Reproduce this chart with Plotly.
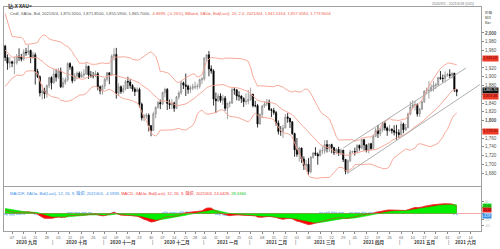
import numpy as np
import pandas as pd
import plotly.graph_objects as go
from plotly.subplots import make_subplots

# ---------------- data (daily XAU=) ----------------
warmup_close = [1740, 1727, 1699, 1714, 1685, 1698, 1715, 1738, 1728, 1730, 1725, 1727, 1727, 1722, 1743,
                1754, 1768, 1761, 1763, 1771, 1772, 1781,
                1769, 1775, 1775, 1784, 1795, 1809, 1803, 1799, 1802, 1809, 1807, 1797, 1810, 1817, 1843,
                1871, 1888, 1902, 1942, 1958, 1970, 1957, 1975,
                1976, 2019, 2039, 2063, 2035, 2028, 1911, 1915, 1954, 1944, 1985, 2003, 1930, 1946, 1940,
                1929, 1907, 1954, 1929, 1964, 1968, 1970]

open_ = [1970,1944,1931,1934,1931,1932,1947,1945,1940,1956,1955,1960,1944,1950,1912,1900,1863,1868,1861,1880,1898,
         1886,1906,1899,1913,1877,1887,1893,1930,1922,1891,1902,1908,1899,1904,1906,1924,1904,1902,1902,1907,1877,1868,
         1879,1894,1909,1904,1947,1951,1862,1877,1866,1873,1889,1888,1880,1872,1866,1871,1837,1806,1810,1812,1788,
         1777,1815,1830,1841,1838,1864,1871,1839,1836,1840,1828,1854,1863,1886,1881,1878,1871,1874,1877,1877,1878,1893,
         1895,1943,1950,1918,1913,1849,1845,1856,1846,1851,1828,1840,1840,1871,1870,1856,1856,1850,1843,1844,
         1848,1860,1834,1834,1792,1814,1833,1838,1842,1825,1823,1818,1794,1775,1775,1783,1808,1805,1797,1770,
         1733,1723,1737,1712,1697,1700,1683,1716,1726,1723,1719,1731,1731,1745,1736,1745,1738,1727,1734,1726,1732,1711,1684,
         1708,1728,1729,1728,1743,1737,1756,1744,1732,1747,1736,1764,1777,1770,1779,1793,1783,1777,1780,1777,1773,1772,
         1768,1792,1779,1784,1815,1831,1836,1836,1815,1826,1843,1867,1869,1869,1876,1881,1881,1898,1896,1896,1903,
         1905,1903,1908,1870.32]
high = [1973,1951,1945,1937,1945,1952,1965,1952,1963,1966,1973,1962,1957,1955,1918,1903,1882,1875,1882,1900,1901,
        1917,1918,1920,1921,1898,1898,1933,1933,1925,1908,1912,1912,1912,1917,1931,1925,1913,1911,1914,1911,1880,1882,
        1897,1911,1910,1951,1965,1966,1885,1880,1881,1893,1900,1894,1883,1876,1876,1875,1841,1815,1817,1816,1790,
        1820,1832,1845,1848,1866,1875,1874,1848,1849,1843,1856,1868,1891,1889,1907,1882,1880,1884,1889,1884,1896,1899,
        1944,1952,1959,1926,1917,1864,1862,1862,1859,1856,1840,1845,1874,1875,1871,1867,1857,1853,1862,1870,
        1875,1861,1845,1838,1816,1835,1844,1849,1848,1828,1829,1822,1800,1787,1790,1815,1817,1806,1798,1772,
        1760,1740,1738,1718,1710,1714,1719,1727,1739,1727,1735,1741,1755,1755,1746,1747,1740,1737,1740,1736,1733,1712,1711,
        1733,1731,1738,1746,1745,1759,1758,1746,1749,1749,1767,1783,1790,1783,1797,1798,1786,1790,1782,1789,1790,1780,
        1799,1795,1792,1818,1843,1846,1845,1839,1829,1845,1869,1875,1890,1883,1890,1886,1900,1913,1905,1912,1909,
        1917,1910,1909,1871.85]
low = [1936,1916,1920,1922,1906,1928,1936,1935,1937,1948,1950,1931,1941,1882,1897,1855,1848,1850,1852,1874,1871,
       1884,1889,1895,1874,1874,1882,1889,1916,1885,1889,1894,1897,1899,1897,1905,1895,1898,1896,1899,1869,1860,1859,
       1872,1889,1883,1903,1937,1850,1856,1861,1862,1869,1872,1873,1866,1856,1865,1829,1800,1798,1804,1775,1764,
       1776,1805,1827,1826,1835,1853,1824,1826,1826,1820,1826,1848,1859,1872,1856,1861,1863,1869,1871,1871,1873,1883,
       1891,1936,1901,1907,1834,1817,1842,1841,1836,1822,1803,1830,1838,1859,1846,1845,1840,1831,1836,1837,
       1845,1830,1830,1784,1791,1805,1829,1833,1822,1808,1813,1788,1768,1765,1760,1782,1795,1783,1767,1717,
       1717,1706,1703,1687,1687,1676,1679,1713,1719,1699,1719,1723,1724,1727,1728,1725,1721,1723,1719,1721,1705,1677,1678,
       1705,1726,1720,1725,1731,1734,1731,1727,1725,1733,1735,1762,1760,1764,1774,1777,1765,1774,1770,1766,1756,1760,
       1765,1771,1776,1782,1812,1827,1823,1809,1808,1824,1840,1862,1850,1866,1866,1872,1880,1893,1887,1887,1900,
       1897,1896,1865,1855.59]
close = [1944,1931,1934,1931,1932,1947,1945,1940,1956,1955,1960,1944,1950,1912,1900,1863,1868,1861,1880,1898,1886,
         1906,1899,1913,1877,1887,1893,1930,1922,1891,1902,1908,1899,1904,1906,1924,1904,1902,1902,1907,1877,1868,1879,
         1894,1909,1904,1947,1951,1862,1877,1866,1873,1889,1888,1880,1872,1866,1871,1837,1806,1810,1812,1788,1777,
         1815,1830,1841,1838,1864,1871,1839,1836,1840,1828,1854,1863,1886,1881,1878,1871,1874,1877,1877,1878,1893,1895,
         1943,1950,1918,1913,1849,1845,1856,1846,1851,1828,1840,1840,1871,1870,1856,1856,1850,1843,1844,1848,
         1860,1834,1834,1792,1814,1833,1838,1842,1825,1823,1818,1794,1775,1775,1783,1808,1805,1797,1770,1733,
         1723,1737,1712,1697,1700,1683,1716,1726,1723,1719,1731,1731,1745,1736,1745,1738,1727,1734,1726,1732,1711,1684,1708,
         1728,1729,1728,1743,1737,1756,1744,1732,1747,1736,1764,1777,1770,1779,1793,1783,1777,1780,1777,1773,1772,1768,
         1792,1779,1784,1815,1831,1836,1836,1815,1826,1843,1867,1869,1869,1876,1881,1881,1898,1896,1896,1903,1905,
         1903,1908,1871,1865.70]

holidays = ["2020-12-25", "2021-01-01"]
dates = [d.strftime("%Y-%m-%d") for d in pd.bdate_range("2020-09-02", "2021-06-04")
         if d.strftime("%Y-%m-%d") not in holidays]

# channel drawn on the chart (read endpoints)
chan_up_x = ["2021-03-29", "2021-06-10"]
chan_up_y = [1737, 1920]
chan_lo_x = ["2021-03-31", "2021-06-18"]
chan_lo_y = [1680, 1882]

month_labels = ["2020 九月", "2020 十月", "2020 十一月", "2020 十二月", "2021 一月",
                "2021 二月", "2021 三月", "2021 四月", "2021 五月", "2021 六月"]
month_label_x = ["2020-09-15", "2020-10-15", "2020-11-12", "2020-12-15", "2021-01-18",
                 "2021-02-16", "2021-03-17", "2021-04-15", "2021-05-17", "2021-06-10"]
month_sep_x = ["2020-09-30 12:00", "2020-10-30 12:00", "2020-11-30 12:00", "2020-12-31 12:00",
               "2021-01-29 12:00", "2021-02-26 12:00", "2021-03-31 12:00", "2021-04-30 12:00",
               "2021-05-31 12:00"]
price_ticks = list(range(1680, 2001, 20))
price_hidden = [1940, 1860, 1780]          # labels covered by value boxes in the original
price_bold = [1800, 2000]
macd_ticks = [-60, -40, -20, 0, 20, 40]
macd_hidden = [0, 20]

# ---------------- indicators (BBand 20,2 ; MACD 12,26,9) ----------------
allc = pd.Series(warmup_close + close, dtype=float)
n = len(close)
sma = allc.rolling(20).mean()
sd = allc.rolling(20).std(ddof=0)
bb_mid = sma.iloc[-n:].values
bb_up = (sma + 2 * sd).iloc[-n:].values
bb_lo = (sma - 2 * sd).iloc[-n:].values
e12 = allc.ewm(span=12, adjust=False).mean()
e26 = allc.ewm(span=26, adjust=False).mean()
macd_all = e12 - e26
sig_all = macd_all.ewm(span=9, adjust=False).mean()
macd = macd_all.iloc[-n:].values
sig = sig_all.iloc[-n:].values
hist = macd - sig

# ---------------- figure ----------------
fig = make_subplots(rows=2, cols=1, shared_xaxes=True, vertical_spacing=0)

fig.add_trace(go.Candlestick(
    x=dates, open=open_, high=high, low=low, close=close,
    increasing=dict(fillcolor="#d8d8d8", line=dict(color="#8a8a8a", width=0.8)),
    decreasing=dict(fillcolor="#000000", line=dict(color="#000000", width=0.8)),
    whiskerwidth=0, showlegend=False, hoverinfo="skip"), row=1, col=1)

band_col = "#f5a08e"
for yv in (bb_up, bb_mid, bb_lo):
    fig.add_trace(go.Scatter(x=dates, y=yv, mode="lines", line=dict(color=band_col, width=0.9),
                             showlegend=False, hoverinfo="skip"), row=1, col=1)

for cx, cy in ((chan_up_x, chan_up_y), (chan_lo_x, chan_lo_y)):
    fig.add_trace(go.Scatter(x=cx, y=cy, mode="lines", line=dict(color="#9a9a9a", width=0.8),
                             showlegend=False, hoverinfo="skip"), row=1, col=1)

# MACD panel
fig.add_trace(go.Scatter(x=dates, y=macd, mode="lines", fill="tozeroy", fillcolor="#ff0000",
                         line=dict(color="#ff0000", width=0.6), showlegend=False, hoverinfo="skip"),
              row=2, col=1)
fig.add_trace(go.Scatter(x=dates, y=sig, mode="lines", fill="tozeroy", fillcolor="#00f000",
                         line=dict(color="#00e000", width=0.6), showlegend=False, hoverinfo="skip"),
              row=2, col=1)
fig.add_trace(go.Scatter(x=dates, y=macd, mode="lines", line=dict(color="#e03030", width=0.6),
                         showlegend=False, hoverinfo="skip"), row=2, col=1)
fig.add_trace(go.Bar(x=dates, y=hist, marker=dict(color="#a8d0f4", line=dict(width=0)),
                     showlegend=False, hoverinfo="skip"), row=2, col=1)

rb = [dict(bounds=["sat", "mon"]), dict(values=holidays)]
xr = ["2020-09-01 12:00", "2021-06-18 12:00"]
mondays = pd.date_range("2020-09-07", "2021-06-14", freq="W-MON")
fig.update_xaxes(rangebreaks=rb, range=xr, showgrid=False, zeroline=False,
                 showline=True, mirror=True, linecolor="#a0a0a0", linewidth=1,
                 rangeslider=dict(visible=False))
fig.update_xaxes(showticklabels=False, ticks="", row=1, col=1)
fig.update_xaxes(tickmode="array", tickvals=[d.strftime("%Y-%m-%d") for d in mondays],
                 ticktext=[d.strftime("%d") for d in mondays], ticks="outside", ticklen=2,
                 tickcolor="#888", tickfont=dict(size=3.8, color="#666", family="Liberation Sans"),
                 row=2, col=1)


def plab(v):
    if v in price_hidden:
        return ""
    s = f"{v:,}"
    return f"<b>{s}</b>" if v in price_bold else s


fig.update_yaxes(side="right", showgrid=False, zeroline=False, showline=True, mirror=True,
                 linecolor="#a0a0a0", linewidth=1, ticks="outside", ticklen=2, tickcolor="#888")
fig.update_yaxes(range=[1650.3, 2059.4], tickmode="array", tickvals=price_ticks,
                 ticktext=[plab(v) for v in price_ticks],
                 tickfont=dict(size=4.6, color="#555", family="Liberation Sans"), row=1, col=1)
fig.update_yaxes(range=[-58, 88], tickmode="array", tickvals=macd_ticks,
                 ticktext=["" if v in macd_hidden else str(v) for v in macd_ticks],
                 zeroline=True, zerolinecolor="#f4a8a8",
                 zerolinewidth=1, tickfont=dict(size=3.4, color="#bbb", family="Liberation Sans"),
                 row=2, col=1)

fig.update_layout(
    width=500, height=249, margin=dict(l=3, r=18, t=7, b=18),
    paper_bgcolor="white", plot_bgcolor="white", bargap=0.55,
    font=dict(family="Liberation Sans, Noto Sans CJK SC", size=4),
)
fig.layout.yaxis.domain = [0.2009, 1.0]
fig.layout.yaxis2.domain = [0.0, 0.1964]

ann = []
cjk = "Noto Sans CJK SC"
ann.append(dict(text="<b>钻.X XAU=</b>", x=0.004, y=1.0, xref="paper", yref="paper", yshift=7,
                xanchor="left", yanchor="top", showarrow=False, font=dict(size=5, color="#333", family=cjk)))
ann.append(dict(text="2020/9/2 - 2021/6/18 (D41)", x=0.99, y=1.0, xref="paper", yref="paper", yshift=7,
                xanchor="right", yanchor="top", showarrow=False, font=dict(size=3.5, color="#777")))
legend_main = ("Cndl, XAU=, Bid, 2021/6/4, 1,870.3200, 1,871.8500, 1,855.5900, 1,865.7000, "
               "<span style='color:#f05a4a'>-4.8699, (-0.26%), BBand, XAU=, Bid(Last), 20, 2.0, 2021/6/4, "
               "1,941.0164, 1,857.4584, 1,773.9004</span>")
ann.append(dict(text=legend_main, x=0.008, y=1.0, xref="paper", yref="paper", yshift=-1.5,
                xanchor="left", yanchor="top", showarrow=False, font=dict(size=4.1, color="#555")))
legend_macd = ("<span style='color:#3a8ee6'>MACDF, XAU=, Bid(Last), 12, 26, 9, 融资, 2021/6/4, -4.5939, </span>"
               "<span style='color:#f04040'>MACD, XAU=, Bid(Last), 12, 26, 9, 融资, 2021/6/4, 24.0428, </span>"
               "<span style='color:#20c020'>28.6366</span>")
ann.append(dict(text=legend_macd, x=0.008, y=0.1964, xref="paper", yref="paper", yshift=-1,
                xanchor="left", yanchor="top", showarrow=False, font=dict(size=4.1, family="Liberation Sans, " + cjk)))
for t, yy in (("价格", 12), ("BID", 17), ("Bar", 22)):
    ann.append(dict(text=t, x=1.0, y=1.0, xref="paper", yref="paper", xshift=2, yshift=7 - yy,
                    xanchor="left", yanchor="middle", showarrow=False, font=dict(size=3.6, color="#333", family=cjk)))
# right value boxes (small vertical nudges keep adjacent boxes from covering each other)
for val, bg, fc, ys in ((1941.0164, "#f03a28", "#5a0000", 0), (1865.70, "#111111", "#ffffff", 1.3),
                        (1857.4584, "#f03a28", "#5a0000", -1.6), (1773.9004, "#f03a28", "#5a0000", 0)):
    ann.append(dict(text=f"{val:,.2f}", x=1.0, y=val, xref="paper", yref="y", xshift=1, yshift=ys,
                    xanchor="left", yanchor="middle", showarrow=False, bgcolor=bg, borderpad=0.3,
                    font=dict(size=3.6, color=fc)))
for val, bg, fc, ys in ((28.6366, "#22ee22", "#005500", -1.2), (24.0428, "#f02020", "#4a0000", -4.2),
                        (-4.5939, "#3a8ee6", "#ffffff", -0.8)):
    ann.append(dict(text=f"{val:.2f}", x=1.0, y=val, xref="paper", yref="y2", xshift=1, yshift=ys,
                    xanchor="left", yanchor="middle", showarrow=False, bgcolor=bg, borderpad=0.1,
                    font=dict(size=3.2, color=fc)))
for t, xx in zip(month_labels, month_label_x):
    ann.append(dict(text=f"<b>{t}</b>", x=xx, y=0, xref="x2", yref="paper", yshift=-11,
                    xanchor="center", yanchor="middle", showarrow=False, font=dict(size=4.6, color="#333", family=cjk)))
for xx in month_sep_x:
    ann.append(dict(text="|", x=xx, y=0, xref="x2", yref="paper", yshift=-11,
                    xanchor="center", yanchor="middle", showarrow=False, font=dict(size=5, color="#666")))
fig.update_layout(annotations=ann)

fig.write_html("out.html")
